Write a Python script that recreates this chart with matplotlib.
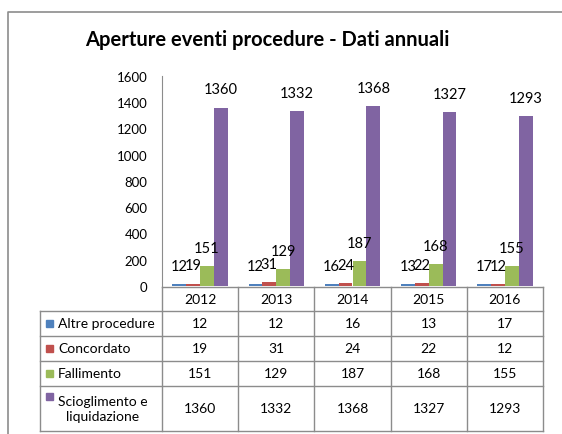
import matplotlib
matplotlib.use('Agg')
import matplotlib.pyplot as plt
import numpy as np

years = ['2012', '2013', '2014', '2015', '2016']
series = ['Altre procedure', 'Concordato', 'Fallimento', 'Scioglimento e\nliquidazione']
altre = [12, 12, 16, 13, 17]
concordato = [19, 31, 24, 22, 12]
fallimento = [151, 129, 187, 168, 155]
scioglimento = [1360, 1332, 1368, 1327, 1293]
colors = ['#4F81BD', '#C0504D', '#9BBB59', '#8064A2']

plt.rcParams['font.family'] = ['Lato', 'DejaVu Sans']

W, H = 562, 435
fig = plt.figure(figsize=(W / 100, H / 100), dpi=100)

# overlay in pixel coordinates for frame, title and data table
bg = fig.add_axes([0, 0, 1, 1])
bg.set_xlim(0, W)
bg.set_ylim(H, 0)
bg.axis('off')
bg.plot([8, 8, W + 5], [H + 5, 13, 13], color='#8c8c8c', lw=1.2)
bg.text(267, 40, 'Aperture eventi procedure - Dati annuali', ha='center', va='center',
        fontsize=14.5, fontweight='bold')

# plot area
x0, x1, ytop, ybot = 162, 543, 77, 287
ax = fig.add_axes([x0 / W, 1 - ybot / H, (x1 - x0) / W, (ybot - ytop) / H])
ax.set_xlim(-0.5, len(years) - 0.5)
ax.set_ylim(0, 1600)
ax.set_yticks(np.arange(0, 1601, 200))
ax.tick_params(axis='y', length=0, labelsize=9.5, pad=10.5)
ax.set_xticks([])
for s in ['top', 'right', 'bottom']:
    ax.spines[s].set_visible(False)
ax.spines['left'].set_color('#8c8c8c')
ax.patch.set_alpha(0)

data = [altre, concordato, fallimento, scioglimento]
w = 1 / 5.5
x = np.arange(len(years))
for i, (vals, c) in enumerate(zip(data, colors)):
    pos = x + (i - 1.5) * w
    ax.bar(pos, vals, width=w, color=c)
    for p, v in zip(pos, vals):
        ax.annotate(str(v), (p, v), xytext=(0, 8), textcoords='offset points',
                    ha='center', va='bottom', fontsize=10.5)

# data table
grid = '#8c8c8c'
col_x = np.linspace(x0, x1, len(years) + 1)
row_y = [288, 312, 337, 362, 387, 432]
lab_x = 40
bg.plot([x0, x1], [row_y[0], row_y[0]], color=grid, lw=1)
for yy in row_y[1:]:
    bg.plot([lab_x, x1], [yy, yy], color=grid, lw=1)
for xx in col_x:
    bg.plot([xx, xx], [row_y[0], row_y[-1]], color=grid, lw=1)
bg.plot([lab_x, lab_x], [row_y[1], row_y[-1]], color=grid, lw=1)

for j, yr in enumerate(years):
    bg.text((col_x[j] + col_x[j + 1]) / 2, (row_y[0] + row_y[1]) / 2, yr,
            ha='center', va='center', fontsize=10)
for i, (name, vals, c) in enumerate(zip(series, data, colors)):
    ya, yb = row_y[i + 1], row_y[i + 2]
    ym = (ya + yb) / 2
    if '\n' in name:
        ky = ya + 10
        bg.text(58, ym, name, ha='left', va='center', fontsize=10, linespacing=1.35,
                multialignment='center')
    else:
        ky = ym
        bg.text(58, ym, name, ha='left', va='center', fontsize=10)
    bg.add_patch(plt.Rectangle((46, ky - 3.5), 7, 7, color=c))
    for j, v in enumerate(vals):
        bg.text((col_x[j] + col_x[j + 1]) / 2, ym, str(v), ha='center', va='center',
                fontsize=10)

fig.savefig('out.png', dpi=100)
